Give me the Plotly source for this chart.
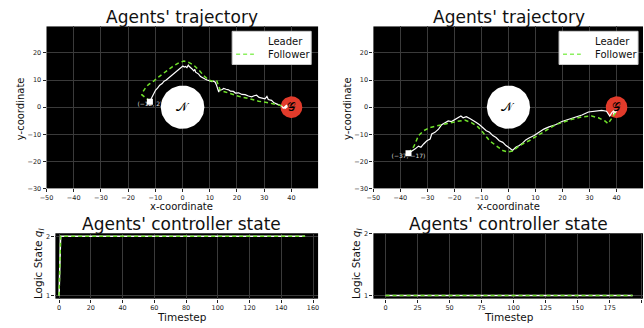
import numpy as np
import plotly.graph_objects as go

# ---------------- data ----------------
leader_left_x = [-12.0, -11.6, -11.2, -11.0, -10.4, -9.9, -9.2, -8.4, -7.5, -6.8, -6.0, -5.0, -4.2, -3.2, -2.3,
                 -1.3, -0.5, 0.1, 0.6, 1.1, 1.6, 2.1, 2.5, 2.9, 3.5, 4.1, 4.5, 4.8, 5.3, 5.9, 6.6, 7.2, 7.8,
                 8.4, 9.0, 9.9, 10.8, 11.4, 12.0, 12.4, 12.6, 13.0, 13.3, 13.6, 13.9, 14.6, 15.1, 16.0, 16.9,
                 17.6, 18.7, 19.4, 20.6, 21.8, 23.0, 24.2, 25.4, 26.3, 27.2, 28.1, 29.1, 30.3, 31.0, 31.5, 32.7,
                 33.6, 34.5, 35.4, 36.4, 37.0, 37.6, 38.3, 37.8, 38.8, 37.5, 38.0]
leader_left_y = [2.2, 3.0, 3.4, 4.3, 5.2, 6.3, 7.0, 8.1, 8.7, 9.6, 10.0, 10.9, 11.4, 12.4, 13.2,
                 14.2, 14.6, 15.2, 14.8, 15.0, 14.6, 15.5, 15.0, 14.7, 14.1, 13.4, 13.9, 12.9, 12.7, 12.2, 11.3,
                 10.9, 10.4, 10.3, 10.0, 9.8, 9.4, 9.6, 9.2, 8.3, 7.6, 6.8, 5.6, 6.6, 6.3, 6.5, 6.9, 6.6, 6.4,
                 5.9, 5.8, 5.2, 5.3, 4.7, 4.6, 4.1, 3.8, 4.2, 4.4, 3.6, 3.4, 3.1, 4.0, 2.8, 2.5,
                 1.6, 1.2, 0.7, 0.4, -0.4, 0.0, 0.8, 0.3, 0.4, -0.6, 0.2]
follower_left_x = [-12.0, -13.5, -15.0, -14.6, -14.1, -13.3, -12.3, -10.5, -8.6, -6.2, -3.8, -1.3, 0.5, 2.3,
                   4.1, 6.0, 7.8, 9.6, 11.4, 12.6, 13.3, 13.9, 15.7, 18.1, 20.6, 24.2, 27.9, 31.5, 34.5, 37.0]
follower_left_y = [2.2, 3.4, 4.6, 5.6, 6.4, 7.6, 8.5, 9.7, 11.3, 13.1, 14.9, 16.4, 17.0, 16.5,
                   15.5, 13.7, 11.6, 10.0, 9.5, 9.6, 7.6, 6.1, 5.6, 4.8, 4.0, 3.2, 2.2, 1.6, 1.0, 0.4]

leader_right_x = [-37.0, -36.3, -35.4, -34.5, -33.3, -32.4, -31.4, -30.2, -29.0, -28.4, -27.2, -25.9, -24.7,
                  -23.5, -22.3, -21.1, -19.8, -18.6, -17.6, -16.8, -15.6, -14.3, -13.1, -11.9, -10.7, -9.5,
                  -8.2, -7.0, -5.8, -4.6, -3.4, -2.1, -0.9, 0.3, 1.5, 2.7, 4.0, 5.2, 6.4, 7.6, 9.5, 11.3,
                  13.1, 15.0, 17.4, 19.8, 22.3, 24.7, 27.2, 29.6, 32.1, 34.5, 36.3, 37.5, 38.2, 39.4, 38.8, 40.0]
leader_right_y = [-17.0, -16.6, -15.8, -15.4, -14.4, -14.8, -13.6, -12.4, -11.8, -9.9, -9.3, -8.1, -6.5,
                  -5.7, -5.1, -5.3, -4.5, -3.6, -3.3, -3.9, -3.5, -4.2, -4.8, -5.7, -6.5, -7.5,
                  -8.7, -9.3, -10.5, -11.2, -12.4, -13.0, -14.2, -15.0, -16.0, -14.8, -14.2, -13.3, -12.1,
                  -11.4, -10.5, -9.3, -8.1, -7.3, -6.5, -5.3, -4.5, -3.6, -2.9, -1.8, -1.5, -1.2, -1.5,
                  -3.3, -2.1, -0.8, -2.7, -1.5]
follower_right_x = [-37.0, -35.0, -33.3, -31.4, -29.0, -25.9, -22.9, -19.2, -16.2, -13.7, -11.3, -9.5, -7.0,
                    -4.6, -2.1, -0.3, 1.5, 3.4, 5.2, 7.6, 10.1, 12.5, 15.0, 17.4, 19.8, 23.5, 27.2, 30.8,
                    33.3, 35.7, 36.9, 37.5, 38.8, 40.0]
follower_right_y = [-17.0, -14.5, -10.5, -8.7, -7.5, -6.9, -6.1, -5.3, -4.8, -5.7, -7.3, -9.3, -12.4,
                    -14.2, -16.0, -16.6, -16.2, -14.8, -13.6, -12.4, -10.9, -9.3, -7.8, -6.5, -5.7, -4.5,
                    -3.6, -3.3, -3.9, -5.1, -6.1, -5.1, -3.3, -1.5]

start_left = (-12, 2)
start_right = (-37, -17)
start_left_label = "(−12, 2)"
start_right_label = "(−37, −17)"

obstacle_center = (0, 0)
obstacle_radius = 8
goal_center = (40, 0)
goal_radius = 4

steps_left = list(range(156))
state_left = [1] + [2] * 155
steps_right = list(range(194))
state_right = [1] * 194

legend_labels = ["Leader", "Follower"]

GREEN = "#6fe02a"
RED = "#e23b2b"
FONT = "DejaVu Sans"
W, H = 644, 328


def px_x(p):
    return p / W


def px_y(p):
    return 1 - p / H


def circle(cx, cy, r, n=90):
    t = np.linspace(0, 2 * np.pi, n)
    return cx + r * np.cos(t), cy + r * np.sin(t)


fig = go.Figure()


def add_traj(xa, ya, lx, ly, fx, fy, start, label):
    fig.add_trace(go.Scatter(x=[start[0]], y=[start[1]], mode="text", text=[label],
                             textposition="bottom center", textfont=dict(size=6, color="#dddddd", family=FONT),
                             xaxis=xa, yaxis=ya, showlegend=False, hoverinfo="skip"))
    ox, oy = circle(obstacle_center[0], obstacle_center[1], obstacle_radius)
    fig.add_trace(go.Scatter(x=ox, y=oy, fill="toself", fillcolor="white", mode="lines",
                             line=dict(color="white", width=0), xaxis=xa, yaxis=ya, showlegend=False,
                             hoverinfo="skip"))
    gx, gy = circle(goal_center[0], goal_center[1], goal_radius)
    fig.add_trace(go.Scatter(x=gx, y=gy, fill="toself", fillcolor=RED, mode="lines",
                             line=dict(color=RED, width=0), xaxis=xa, yaxis=ya, showlegend=False,
                             hoverinfo="skip"))
    fig.add_trace(go.Scatter(x=lx, y=ly, mode="lines", name=legend_labels[0],
                             line=dict(color="white", width=1.2),
                             xaxis=xa, yaxis=ya, showlegend=False))
    fig.add_trace(go.Scatter(x=fx, y=fy, mode="lines", name=legend_labels[1],
                             line=dict(color=GREEN, width=1.5, dash="4px,3px"),
                             xaxis=xa, yaxis=ya, showlegend=False))
    fig.add_trace(go.Scatter(x=[start[0]], y=[start[1]], mode="markers",
                             marker=dict(symbol="square", color="white", size=6),
                             xaxis=xa, yaxis=ya, showlegend=False, hoverinfo="skip"))


add_traj("x", "y", leader_left_x, leader_left_y, follower_left_x, follower_left_y,
         start_left, start_left_label)
add_traj("x2", "y2", leader_right_x, leader_right_y, follower_right_x, follower_right_y,
         start_right, start_right_label)

for xa, ya, sx, sl, sy in [("x3", "y3", steps_left, state_left, state_left),
                           ("x4", "y4", steps_right, state_right, state_right)]:
    fig.add_trace(go.Scatter(x=sx, y=sl, mode="lines", line=dict(color="white", width=1.5),
                             xaxis=xa, yaxis=ya, showlegend=False))
    fig.add_trace(go.Scatter(x=sx, y=sy, mode="lines", line=dict(color=GREEN, width=1.5, dash="4px,3px"),
                             xaxis=xa, yaxis=ya, showlegend=False))

tickfont = dict(family=FONT, size=6.5, color="#222")
axcommon = dict(showgrid=True, gridcolor="#3a3a3a", gridwidth=0.8, zeroline=False, ticks="outside",
                ticklen=3, tickcolor="#222", tickfont=tickfont, showline=False)

top_y = [px_y(189), px_y(23)]
bot_y = [px_y(302), px_y(235)]
left_x = [px_x(40), px_x(315)]
bl_x = [px_x(49), px_x(315)]
right_x = [px_x(371), 1.0]

fig.update_layout(
    width=W, height=H, margin=dict(l=0, r=0, t=0, b=0),
    paper_bgcolor="white", plot_bgcolor="black", showlegend=False,
    xaxis=dict(domain=left_x, anchor="y", range=[-50, 49.8], tickvals=list(range(-50, 50, 10)), **axcommon),
    yaxis=dict(domain=top_y, anchor="x", range=[-30, 29.8], tickvals=list(range(-30, 30, 10)), **axcommon),
    xaxis2=dict(domain=right_x, anchor="y2", range=[-50, 49.8], tickvals=list(range(-50, 50, 10)), **axcommon),
    yaxis2=dict(domain=top_y, anchor="x2", range=[-30, 29.8], tickvals=list(range(-30, 30, 10)), **axcommon),
    xaxis3=dict(domain=bl_x, anchor="y3", range=[-2.3, 163.2], tickvals=list(range(0, 161, 20)), **axcommon),
    yaxis3=dict(domain=bot_y, anchor="x3", range=[0.95, 2.05], tickvals=[1, 2], **axcommon),
    xaxis4=dict(domain=right_x, anchor="y4", range=[-9.5, 201.1], tickvals=list(range(0, 201, 25)), **axcommon),
    yaxis4=dict(domain=bot_y, anchor="x4", range=[0.95, 2.0], tickvals=[1, 2], **axcommon),
)

ann = []
shapes = []


def txt(x, y, s, size, angle=0, xanchor="center"):
    ann.append(dict(x=px_x(x), y=px_y(y), xref="paper", yref="paper", text=s, showarrow=False,
                    xanchor=xanchor, yanchor="middle", textangle=angle,
                    font=dict(family=FONT, size=size, color="#111")))


for cx in (177, 508):
    txt(cx, 13, "Agents' trajectory", 17)
    txt(cx, 208, "x-coordinate", 10)
    txt(cx, 225, "Agents' controller state", 17)
    txt(cx, 321, "Timestep", 10.5)
txt(14, 107, "y-coordinate", 10, -90)
txt(345, 107, "y-coordinate", 10, -90)
txt(32, 266, "Logic State <i>q<sub>l</sub></i>", 10.5, -90)
txt(354, 266, "Logic State <i>q<sub>l</sub></i>", 10.5, -90)

# legend boxes (drawn manually to match size)
for lx0, lx1 in ((228, 308), (559, 639)):
    shapes.append(dict(type="rect", xref="paper", yref="paper", x0=px_x(lx0), x1=px_x(lx1),
                       y0=px_y(62), y1=px_y(28), fillcolor="white", line=dict(color="#cccccc", width=1),
                       layer="above"))
    shapes.append(dict(type="line", xref="paper", yref="paper", x0=px_x(lx0 + 4), x1=px_x(lx0 + 22),
                       y0=px_y(51.5), y1=px_y(51.5), line=dict(color="white", width=1.2), layer="above"))
    shapes.append(dict(type="line", xref="paper", yref="paper", x0=px_x(lx0 + 4), x1=px_x(lx0 + 22),
                       y0=px_y(51.5), y1=px_y(51.5), line=dict(color="#8cf060", width=1.5, dash="4px,3px"),
                       layer="above"))
    txt(lx0 + 34, 38, legend_labels[0], 10, xanchor="left")
    txt(lx0 + 34, 51.5, legend_labels[1], 10, xanchor="left")

for xr, yr in (("x", "y"), ("x2", "y2")):
    ann.append(dict(x=obstacle_center[0], y=obstacle_center[1], xref=xr, yref=yr, text="𝒩", showarrow=False,
                    font=dict(family="DejaVu Serif", size=12, color="black")))
    ann.append(dict(x=goal_center[0], y=goal_center[1], xref=xr, yref=yr, text="𝒢", showarrow=False,
                    font=dict(family="DejaVu Serif", size=12, color="black")))

fig.update_layout(annotations=ann, shapes=shapes)
fig.write_html("out.html")
